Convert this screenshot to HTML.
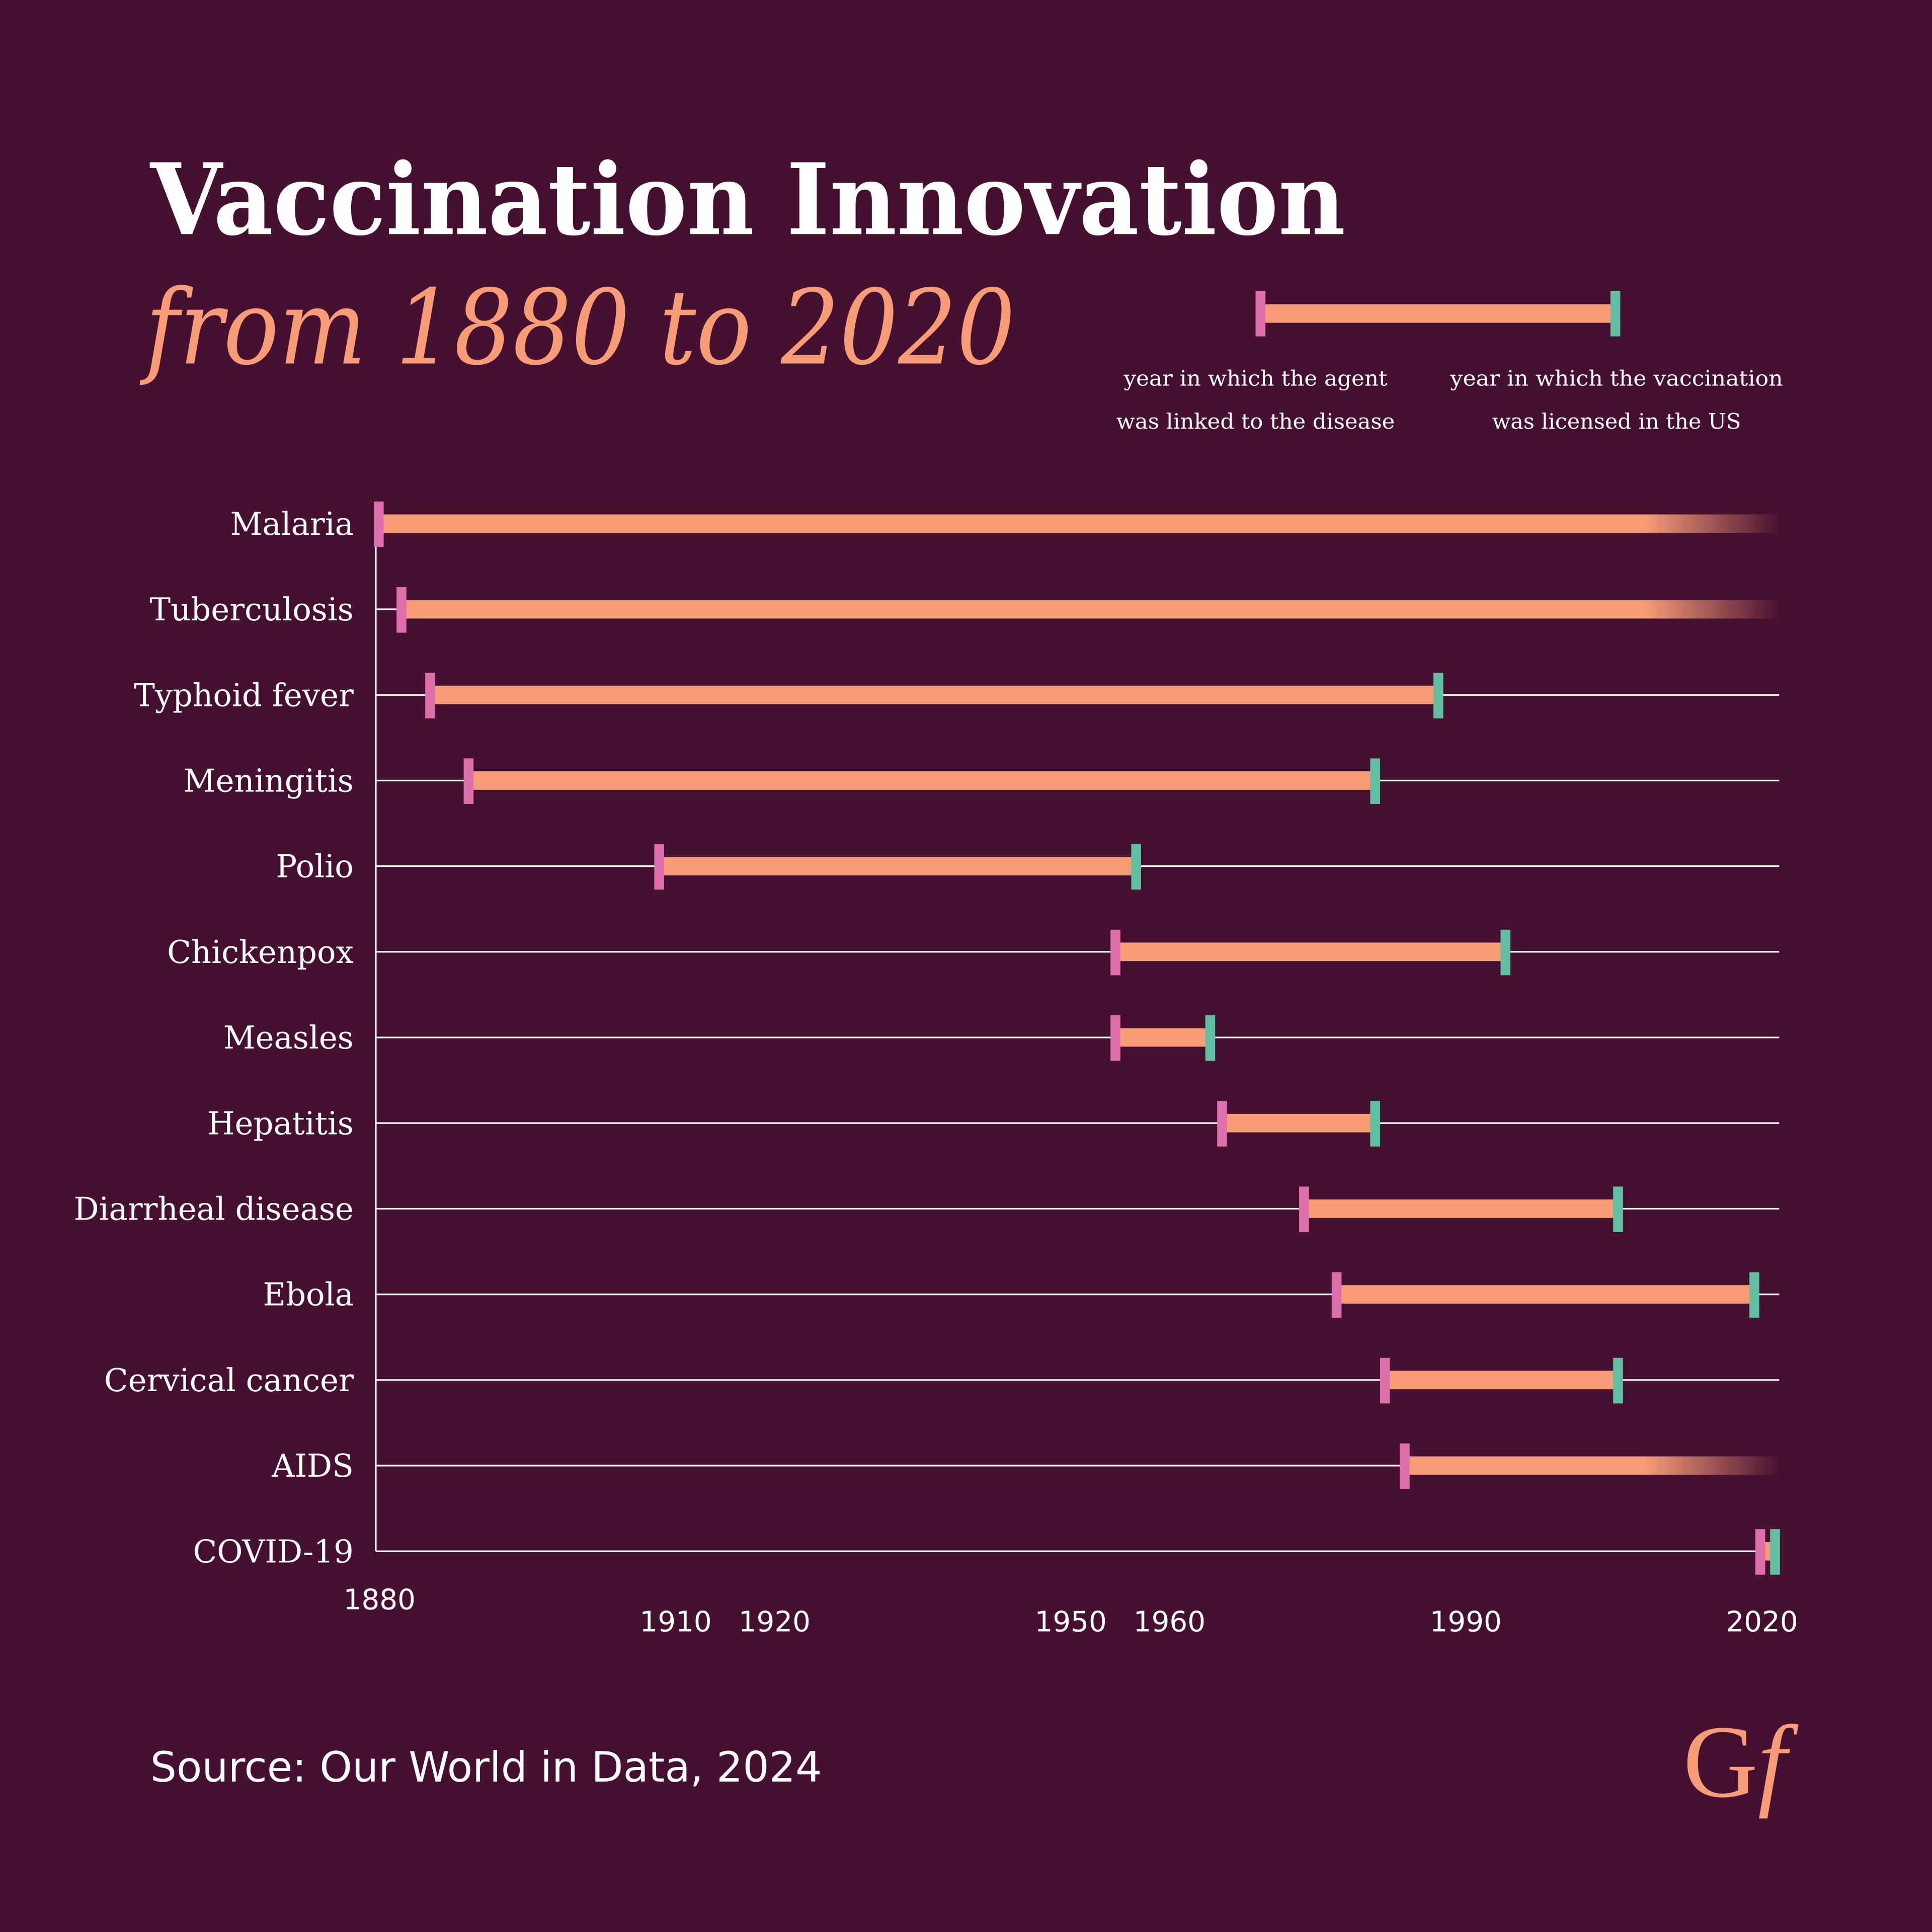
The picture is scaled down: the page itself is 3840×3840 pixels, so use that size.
<!DOCTYPE html>
<html><head><meta charset="utf-8"><style>html,body{margin:0;padding:0;background:#461030}svg{display:block}</style></head>
<body>
<svg id="chart" width="3840" height="3840" viewBox="0 0 1568 1568" xmlns="http://www.w3.org/2000/svg">
<defs>
<linearGradient id="fade" gradientUnits="userSpaceOnUse" x1="1335" x2="1445" y1="0" y2="0">
<stop offset="0" stop-color="#F79C77"/><stop offset="1" stop-color="#F79C77" stop-opacity="0"/>
</linearGradient>
</defs>
<rect width="1568" height="1568" fill="#461030"/>
<text x="122" y="190" font-family="DejaVu Serif, Liberation Serif, serif" font-weight="bold" font-size="80" fill="#fff" textLength="970" lengthAdjust="spacingAndGlyphs">Vaccination Innovation</text>
<text x="118" y="295" font-family="DejaVu Serif, Liberation Serif, serif" font-style="italic" font-size="84" fill="#F79C77" textLength="706" lengthAdjust="spacingAndGlyphs">from 1880 to 2020</text>
<g>
<rect x="1024" y="247" width="287" height="15" fill="#F79C77"/>
<rect x="1019" y="236" width="8" height="37" fill="#DC6FAC"/>
<rect x="1307" y="236" width="8" height="37" fill="#5FBFA0"/>
<g font-family="DejaVu Serif, Liberation Serif, serif" font-size="17" fill="#fff" text-anchor="middle">
<text x="1019" y="313" textLength="214" lengthAdjust="spacingAndGlyphs">year in which the agent</text>
<text x="1019" y="348" textLength="226" lengthAdjust="spacingAndGlyphs">was linked to the disease</text>
<text x="1312" y="313" textLength="270" lengthAdjust="spacingAndGlyphs">year in which the vaccination</text>
<text x="1312" y="348" textLength="202" lengthAdjust="spacingAndGlyphs">was licensed in the US</text>
</g>
</g>
<g id="plot"></g>
<text x="122" y="1446" font-family="DejaVu Sans, Liberation Sans, sans-serif" font-size="34" fill="#fff" textLength="545" lengthAdjust="spacingAndGlyphs">Source: Our World in Data, 2024</text>
<text x="1366" y="1458" font-family="Liberation Serif, serif" font-size="84" fill="#F79C77">G<tspan font-style="italic">f</tspan></text>
</svg>
<script>
const diseases=["Malaria","Tuberculosis","Typhoid fever","Meningitis","Polio","Chickenpox","Measles","Hepatitis","Diarrheal disease","Ebola","Cervical  cancer","AIDS","COVID-19"];
const linkedYear=[1880.3,1882.6,1885.5,1889.4,1908.7,1954.9,1954.9,1965.7,1974,1977.3,1982.2,1984.2,2020.2];
const licensedYear=[null,null,1987.6,1981.2,1957,1994.4,1964.5,1981.2,2005.8,2019.6,2005.8,null,2021.7];
const tickYears=[1880,1910,1920,1950,1960,1990,2020];
const NS="http://www.w3.org/2000/svg";
const g=document.getElementById('plot');
const x=y=>305+(y-1880)*(1122/140);
const rowY=i=>425+i*69.5;
function mk(t,a){const e=document.createElementNS(NS,t);for(const k in a)e.setAttribute(k,a[k]);g.appendChild(e);return e;}
const ax=mk('line',{x1:305,x2:305,y1:410,y2:rowY(diseases.length-1),stroke:'#fff','stroke-width':1.3});


diseases.forEach((d,i)=>{
 const y=rowY(i);
 const s=x(linkedYear[i]);
 const ongoing=licensedYear[i]===null;
 const e=ongoing?1445:x(licensedYear[i]);
 if(i>0){const gl=mk('line',{x1:305,x2:ongoing?s:1444,y1:y,y2:y,stroke:'#fff','stroke-width':1.3});
 
 }
 const lab=mk('text',{x:287,y:y+9,'text-anchor':'end','font-family':'DejaVu Serif, Liberation Serif, serif','font-size':25.5,fill:'#fff'});
 lab.textContent=d;
 
 
 const bar=mk('rect',{x:s,y:y-7.5,width:e-s,height:15,fill:ongoing?'url(#fade)':'#F79C77'});
 
 
 const m1=mk('rect',{x:s-4,y:y-18,width:8,height:37,fill:'#DC6FAC'});
 
 
 if(!ongoing){const m2=mk('rect',{x:e-4,y:y-18,width:8,height:37,fill:'#5FBFA0'});
 
 }
});
tickYears.forEach((t,i)=>{
 const tl=mk('text',{x:x(t)+3,y:i===0?1306:1324,'text-anchor':'middle','font-family':'DejaVu Sans, Liberation Sans, sans-serif','font-size':23,fill:'#fff'});
 tl.textContent=t;
 
 
});
</script>
</body></html>
